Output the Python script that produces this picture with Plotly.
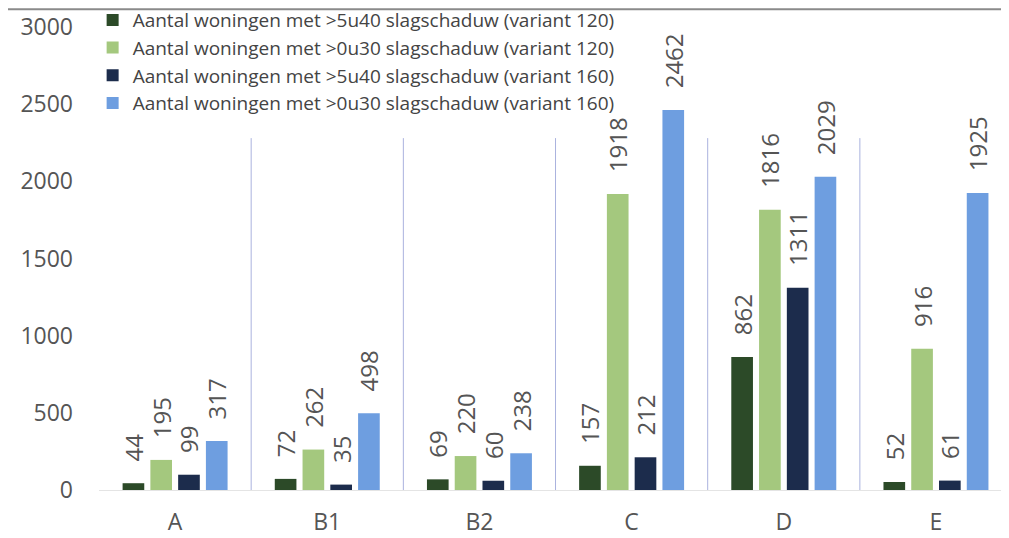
import plotly.graph_objects as go

categories = ["A", "B1", "B2", "C", "D", "E"]
series_names = [
    "Aantal woningen met >5u40 slagschaduw (variant 120)",
    "Aantal woningen met >0u30 slagschaduw (variant 120)",
    "Aantal woningen met >5u40 slagschaduw (variant 160)",
    "Aantal woningen met >0u30 slagschaduw (variant 160)",
]
v120_5u40 = [44, 72, 69, 157, 862, 52]
v120_0u30 = [195, 262, 220, 1918, 1816, 916]
v160_5u40 = [99, 35, 60, 212, 1311, 61]
v160_0u30 = [317, 498, 238, 2462, 2029, 1925]
series_values = [v120_5u40, v120_0u30, v160_5u40, v160_0u30]
colors = ["#2c4a28", "#a4c87e", "#1c2c4c", "#6e9ee0"]
y_ticks = [0, 500, 1000, 1500, 2000, 2500, 3000]

FONT = "Open Sans"
fig = go.Figure()
for name, vals, col in zip(series_names, series_values, colors):
    fig.add_trace(go.Bar(
        x=categories, y=vals, name=name, marker=dict(color=col, line=dict(width=0)),
        text=vals, texttemplate="\u00a0\u00a0\u00a0%{text}", textposition="outside",
        textangle=-90, constraintext="none", cliponaxis=False,
        textfont=dict(family=FONT, size=24, color="#555555"),
    ))

# separators between categories
for i in range(len(categories) - 1):
    fig.add_shape(type="line", xref="x", yref="y", x0=i + 0.5, x1=i + 0.5, y0=0, y1=2280,
                  line=dict(color="#aab2de", width=1))
# top rule
fig.add_shape(type="line", xref="paper", yref="paper", x0=-0.12, x1=1.01, y0=1.0385, y1=1.0385,
              line=dict(color="#8a8a8a", width=2))

fig.update_layout(
    width=1009, height=538,
    margin=dict(l=91, r=8, t=19, b=56, autoexpand=False),
    paper_bgcolor="white", plot_bgcolor="white",
    barmode="group", bargap=0.27, bargroupgap=0.22,
    font=dict(family=FONT, color="#555555"),
    showlegend=True,
    legend=dict(x=-0.007, y=1.056, xanchor="left", yanchor="top",
                font=dict(family=FONT, size=19, color="#444444"),
                bgcolor="rgba(0,0,0,0)", itemwidth=30, tracegroupgap=0,
                itemsizing="constant"),
)
fig.update_xaxes(range=[-0.5, 5.48], showgrid=False, showline=True, linecolor="#e4e4e4",
                 linewidth=1, ticks="", ticklabelstandoff=11,
                 tickfont=dict(family=FONT, size=23, color="#555555"))
fig.update_yaxes(range=[0, 3000], tickvals=y_ticks, showgrid=False, zeroline=False,
                 showline=False, ticks="", ticklabelstandoff=25,
                 tickfont=dict(family=FONT, size=23, color="#555555"))

fig.write_html("out.html")
